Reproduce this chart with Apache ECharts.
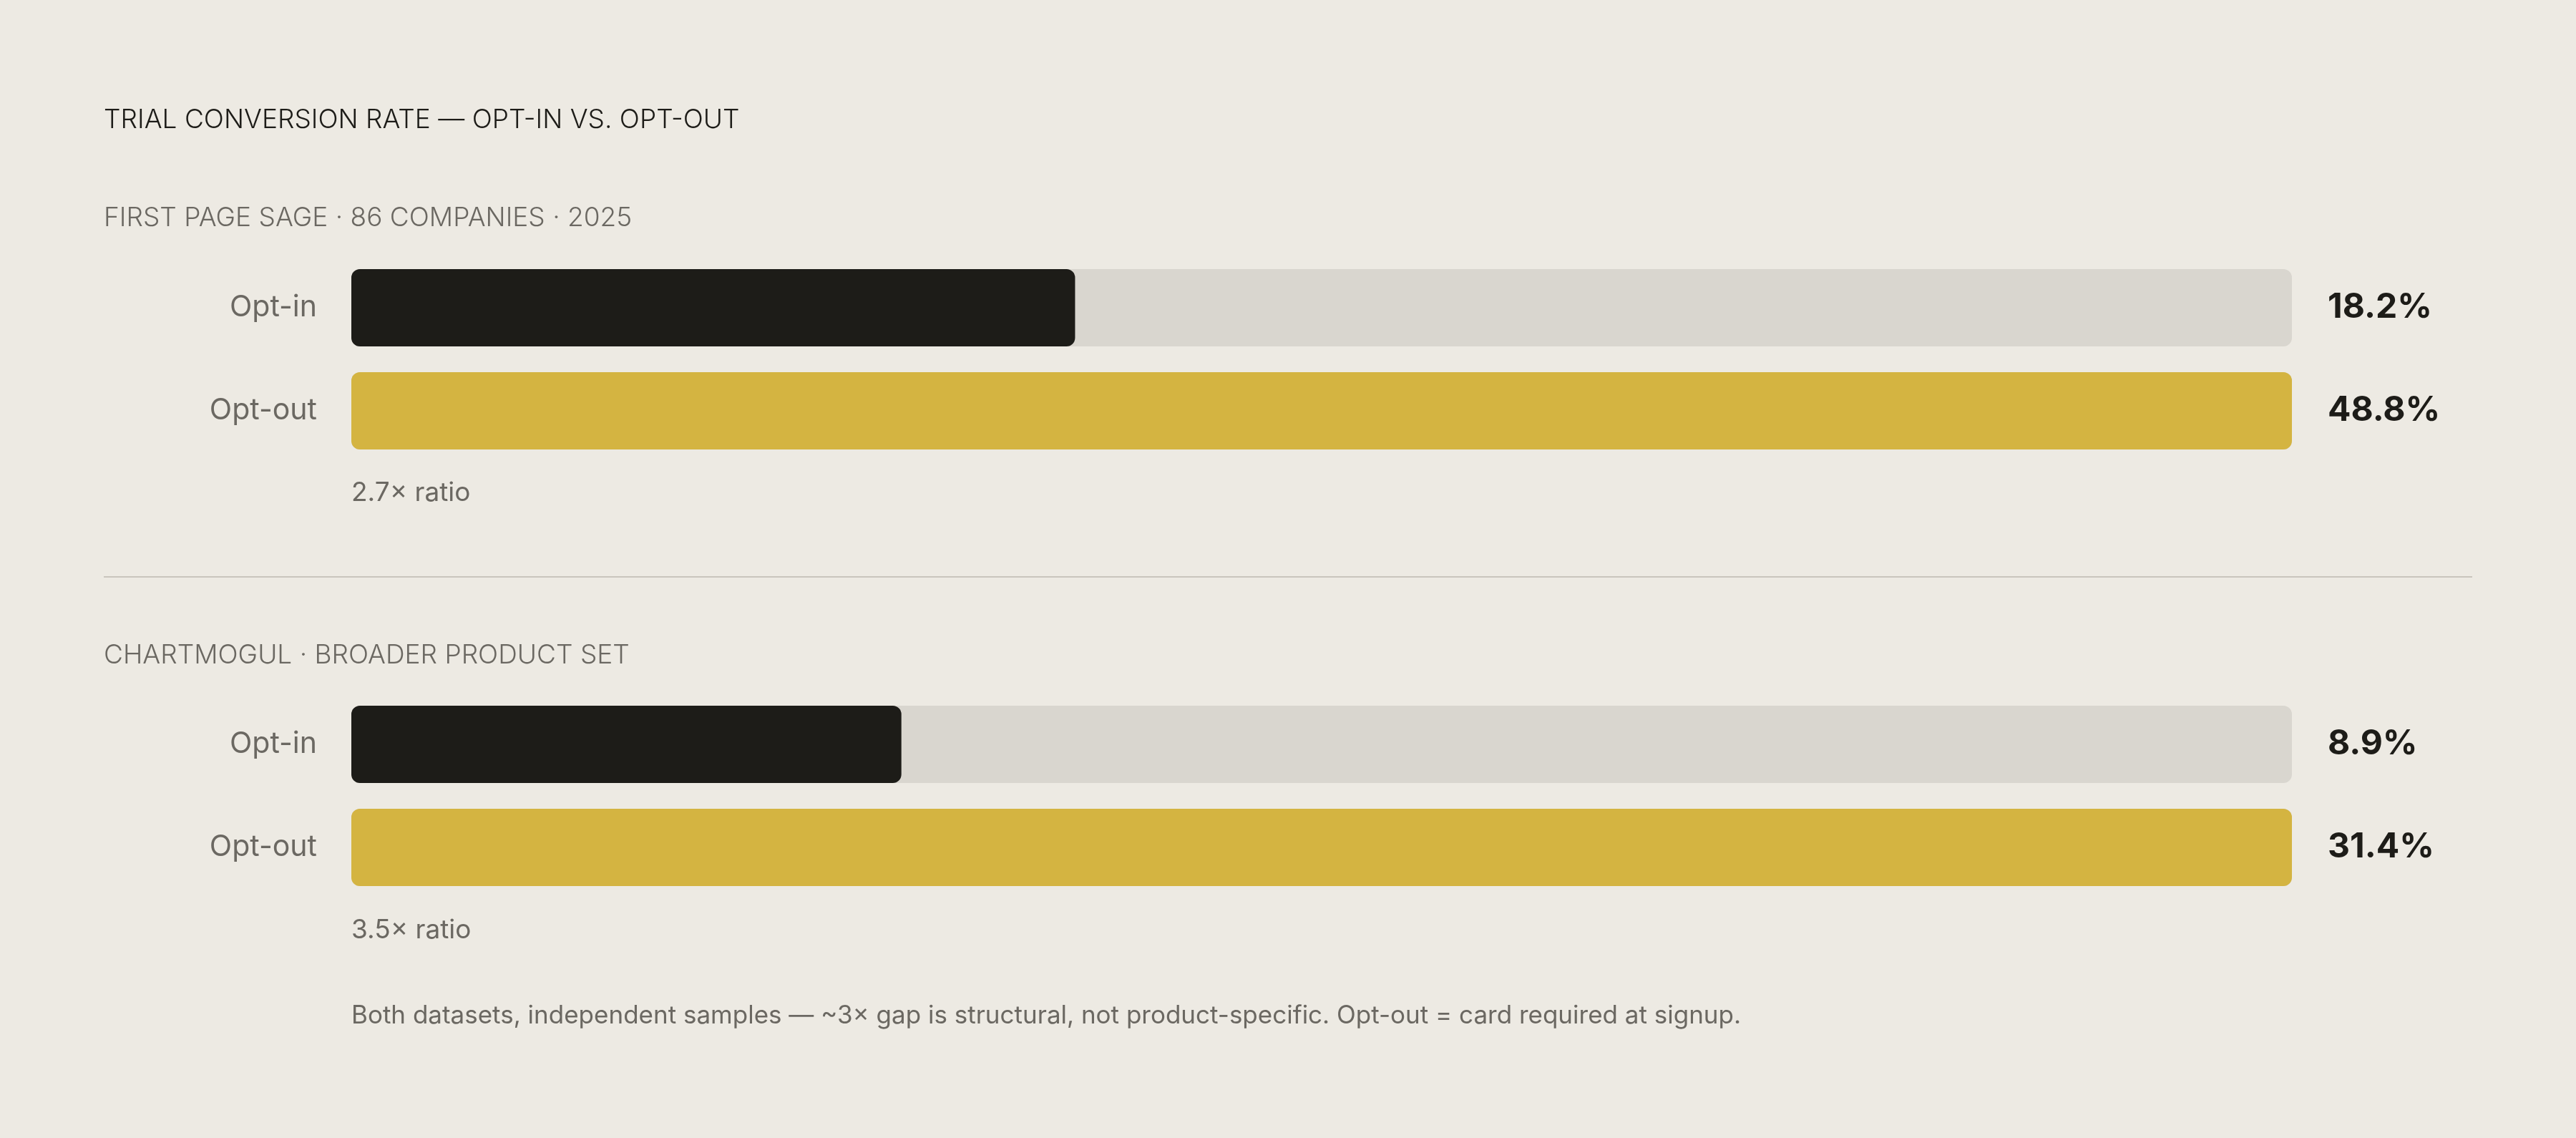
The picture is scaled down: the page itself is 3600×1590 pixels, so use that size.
<!DOCTYPE html>
<html>
<head>
<meta charset="utf-8">
<script src="https://cdn.jsdelivr.net/npm/echarts@6/dist/echarts.min.js"></script>
<style>
  html, body { margin: 0; padding: 0; background: #edeae3; }
  #chart { width: 3600px; height: 1590px; }
</style>
</head>
<body>
<div id="chart"></div>
<script>
// data
var categories = ['Opt-in', 'Opt-out'];
var sageValues = [18.2, 48.8];      // First Page Sage
var mogulValues = [8.9, 31.4];      // ChartMogul
var groupTitles = ['FIRST PAGE SAGE · 86 COMPANIES · 2025', 'CHARTMOGUL · BROADER PRODUCT SET'];
var mainTitle = 'TRIAL CONVERSION RATE — OPT-IN VS. OPT-OUT';
var footnote = 'Both datasets, independent samples — ~3× gap is structural, not product-specific. Opt-out = card required at signup.';

var FONT = 'Inter, "Noto Sans", sans-serif';
var INK = '#1d1c18';
var MUTED = '#6b6862';
var GOLD = '#d4b441';
var TRACK = '#d9d6cf';

function ratioText(vals) {
    return (vals[1] / vals[0]).toFixed(1) + '× ratio';
}

// one grid per dataset, each scaled to its own opt-out value
function makeAxes(idx, vals) {
    return {
        x: {
            type: 'value', gridIndex: idx, min: 0, max: vals[1],
            show: false
        },
        yl: {
            type: 'category', gridIndex: idx, data: categories, inverse: true,
            axisLine: {show: false}, axisTick: {show: false},
            axisLabel: {color: MUTED, fontSize: 41, fontFamily: FONT, margin: 48}
        },
        yr: {
            type: 'category', gridIndex: idx, data: categories, inverse: true,
            position: 'right',
            axisLine: {show: false}, axisTick: {show: false},
            axisLabel: {
                color: INK, fontSize: 48, fontWeight: 'bold', fontFamily: FONT, margin: 50,
                formatter: function (v, i) { return vals[i].toFixed(1) + '%'; }
            }
        }
    };
}

var a0 = makeAxes(0, sageValues);
var a1 = makeAxes(1, mogulValues);

function barSeries(idx, vals) {
    return {
        type: 'bar',
        xAxisIndex: idx,
        yAxisIndex: idx * 2,
        barWidth: 108,
        showBackground: true,
        backgroundStyle: {color: TRACK, borderRadius: 12},
        data: vals.map(function (v, i) {
            return {value: v, itemStyle: {color: i === 0 ? INK : GOLD, borderRadius: 12}};
        }),
        silent: true,
        animation: false
    };
}

function txt(x, y, text, size, color, extra) {
    var style = {x: x, y: y, text: text, fontSize: size, fontFamily: FONT, fill: color, verticalAlign: 'middle'};
    if (extra) for (var k in extra) style[k] = extra[k];
    return {type: 'text', style: style};
}

var chart = echarts.init(document.getElementById('chart'));
var option = {
    backgroundColor: '#edeae3',
    grid: [
        {left: 491, right: 397, top: 358, height: 288},
        {left: 491, right: 397, top: 968, height: 288}
    ],
    xAxis: [a0.x, a1.x],
    yAxis: [a0.yl, a0.yr, a1.yl, a1.yr],
    series: [barSeries(0, sageValues), barSeries(1, mogulValues)],
    graphic: [
        txt(145, 168, mainTitle, 37, INK, {fontWeight: 300}),
        txt(145, 305, groupTitles[0], 37, MUTED, {fontWeight: 300}),
        txt(491, 689, ratioText(sageValues), 37, MUTED),
        {
            type: 'line',
            shape: {x1: 145, y1: 806, x2: 3455, y2: 806},
            style: {stroke: '#c9c5bd', lineWidth: 2}
        },
        txt(145, 916, groupTitles[1], 37, MUTED, {fontWeight: 300}),
        txt(491, 1300, ratioText(mogulValues), 37, MUTED),
        txt(491, 1419, footnote, 35, MUTED)
    ]
};
chart.setOption(option);
</script>
</body>
</html>
